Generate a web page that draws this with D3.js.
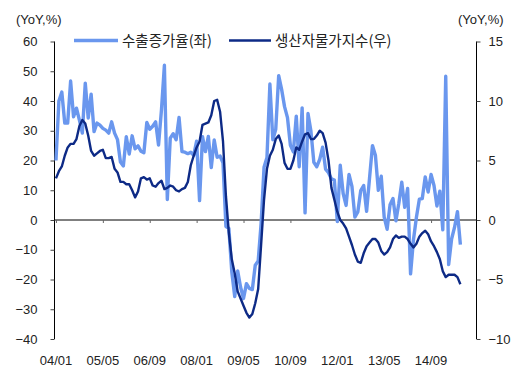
<!DOCTYPE html>
<html><head><meta charset="utf-8">
<script src="https://cdn.jsdelivr.net/npm/d3@7"></script>
<style>
html,body{margin:0;padding:0;background:#fff;}
svg{display:block;}
text{font-family:"Liberation Sans",Arial,sans-serif;fill:#222;}
.kr{font-family:"Noto Sans CJK KR","Liberation Sans",sans-serif;}
</style></head><body>
<script>
// Monthly data, 2004/01 .. 2015/07
const exportGrowth = [
 20,40,43,32.6,32.6,46.7,34.7,37.6,33.6,29.2,46,34.3,
 42.3,29.7,32.6,31.9,30.8,30.2,29.2,33,29.2,27,19.5,18.2,
 28,22.2,28.3,23.9,24.9,23.1,22.6,32.8,30.5,31.5,33,25.2,
 37,52,6.9,27.5,29,27,34.5,23,22.8,22.3,22.8,21.7,
 26.5,6.5,28,23,28.1,17.6,26.9,21.1,21.5,19.2,-2.2,-2.8,
 -17.5,-25.7,-17.1,-22.6,-26.4,-21.4,-23.0,-23.4,-15.2,-13.8,-1.2,17.7,
 21.0,45.7,27,30.5,48.5,43.9,38.1,34.4,25.1,22.9,34.9,17.9,
 37.7,2.4,35.8,29.9,19.4,17.9,20.4,24.5,17.1,15.9,13.8,13.4,
 -0.5,18.4,8.9,4.9,15.3,11.3,1.0,2.7,9.9,11.6,2.9,14.1,
 25.0,21.8,10.0,14.7,1.0,-3.1,5.1,7.2,-0.3,5.6,12.7,4.3,
 10.6,-18.1,-6.6,0.9,7.0,7.2,14.5,9.4,15.3,11.6,4.7,9.7,
 -3.3,48.3,-15.0,-6.4,-2.5,2.8,-8.3
];
const ppi = [
 3.5,4.1,4.5,5.4,6.1,6.4,6.4,6.8,7.9,8.4,8.1,7.1,
 5.8,5.4,5.6,5.8,5.9,5.2,5.2,5.3,4.3,4.0,3.2,3.2,
 3.0,3.0,2.5,1.9,2.4,3.5,3.6,3.4,3.5,2.9,2.8,3.1,
 3.3,2.6,2.7,2.9,2.8,2.5,2.4,2.6,2.7,3.2,4.6,5.4,
 6.1,6.6,8.0,8.1,8.2,8.8,10.0,10.1,9.1,6.6,2.0,-1.1,
 -3.3,-4.5,-6.0,-6.6,-7.2,-7.8,-8.2,-7.9,-7.0,-5.8,-2.1,1.7,
 4.3,5.4,5.9,6.8,7.1,6.4,4.8,4.3,4.3,5.0,6.1,5.9,
 6.6,7.2,7.3,6.8,6.8,7.1,7.5,7.3,6.5,5.0,2.7,1.7,
 0.7,0.0,-0.3,-0.7,-1.4,-2.1,-2.9,-3.5,-3.6,-2.8,-2.2,-1.9,
 -1.6,-1.6,-1.9,-2.6,-2.9,-2.7,-2.3,-1.6,-1.3,-1.5,-1.4,-1.4,
 -1.6,-2.0,-2.3,-2.0,-1.4,-1.1,-0.9,-1.2,-1.8,-2.2,-2.7,-3.3,
 -4.3,-4.8,-4.6,-4.6,-4.6,-4.8,-5.4
];
const xTickLabels = ["04/01","05/05","06/09","08/01","09/05","10/09","12/01","13/05","14/09"];
const leftTicks = [60,50,40,30,20,10,0,-10,-20,-30,-40];
const rightTicks = [15,10,5,0,-5,-10];
const seriesNames = ["수출증가율(좌)","생산자물가지수(우)"];
const unitLabel = "(YoY,%)";
const nCategories = 144;

const W=524,H=372;
const svg=d3.select("body").append("svg").attr("width",W).attr("height",H);
const L=54.5,R=476.5,T=41.5,B=339;
const x=d3.scaleLinear().domain([0,nCategories]).range([L,R]);
const yL=d3.scaleLinear().domain([-40,60]).range([B,T]);
const yR=d3.scaleLinear().domain([-10,15]).range([B,T]);
const fmt=d=>d<0?"\u2212"+Math.abs(d):String(d);

// left axis
const gl=svg.append("g").attr("transform",`translate(${L},0)`)
 .call(d3.axisLeft(yL).tickValues(leftTicks).tickSize(4).tickPadding(13).tickFormat(fmt));
gl.selectAll("text").attr("font-size",13).attr("font-family","Liberation Sans, Arial, sans-serif").attr("fill","#222");
gl.selectAll("line").attr("stroke","#444");
gl.select(".domain").attr("stroke","#000").attr("d",`M0,${T}V${B}`);

// right axis
const gr=svg.append("g").attr("transform",`translate(${R},0)`)
 .call(d3.axisRight(yR).tickValues(rightTicks).tickSize(4).tickPadding(8).tickFormat(fmt));
gr.selectAll("text").attr("font-size",13).attr("font-family","Liberation Sans, Arial, sans-serif").attr("fill","#222");
gr.selectAll("line").attr("stroke","#444");
gr.select(".domain").attr("stroke","#000").attr("d",`M0,${T}V${B}`);

// x axis on zero line
const tickIdx=xTickLabels.map((d,k)=>k*16);
const gx=svg.append("g").attr("transform",`translate(0,${yL(0)})`)
 .call(d3.axisBottom(x).tickValues(tickIdx.map(i=>i+0.5)).tickSize(3).tickFormat(""));
gx.select(".domain").attr("stroke","#000").attr("d",`M${L},0H${R}`);
gx.selectAll("line").attr("stroke","#666");
svg.append("g").selectAll("text").data(xTickLabels).join("text")
 .attr("x",(d,k)=>x(tickIdx[k]+0.5)).attr("y",364.5)
 .attr("text-anchor","middle").attr("font-size",13).text(d=>d);

// unit labels
svg.append("text").attr("x",16).attr("y",24).attr("font-size",13).text(unitLabel);
svg.append("text").attr("x",458).attr("y",24).attr("font-size",13).text(unitLabel);

// lines
const lineL=d3.line().x((d,i)=>x(i+0.5)).y(d=>yL(d)).curve(d3.curveLinear);
const lineR=d3.line().x((d,i)=>x(i+0.5)).y(d=>yR(d)).curve(d3.curveLinear);
const cLight="#6a97ee", cDark="#0d2a86";
svg.append("path").datum(exportGrowth).attr("d",lineL).attr("fill","none")
 .attr("stroke",cLight).attr("stroke-width",3.4).attr("stroke-linejoin","round");
svg.append("path").datum(ppi).attr("d",lineR).attr("fill","none")
 .attr("stroke",cDark).attr("stroke-width",2.4).attr("stroke-linejoin","round");

// legend
const leg=[{x1:74,x2:118,tx:122,c:cLight,w:3.4},{x1:229,x2:271,tx:275,c:cDark,w:2.4}];
leg.forEach((l,k)=>{
 svg.append("line").attr("x1",l.x1).attr("x2",l.x2).attr("y1",40.5).attr("y2",40.5)
  .attr("stroke",l.c).attr("stroke-width",l.w);
 svg.append("text").attr("class","kr").attr("x",l.tx).attr("y",45.5)
  .attr("font-size",14.5).text(seriesNames[k]);
});
</script>
</body></html>
